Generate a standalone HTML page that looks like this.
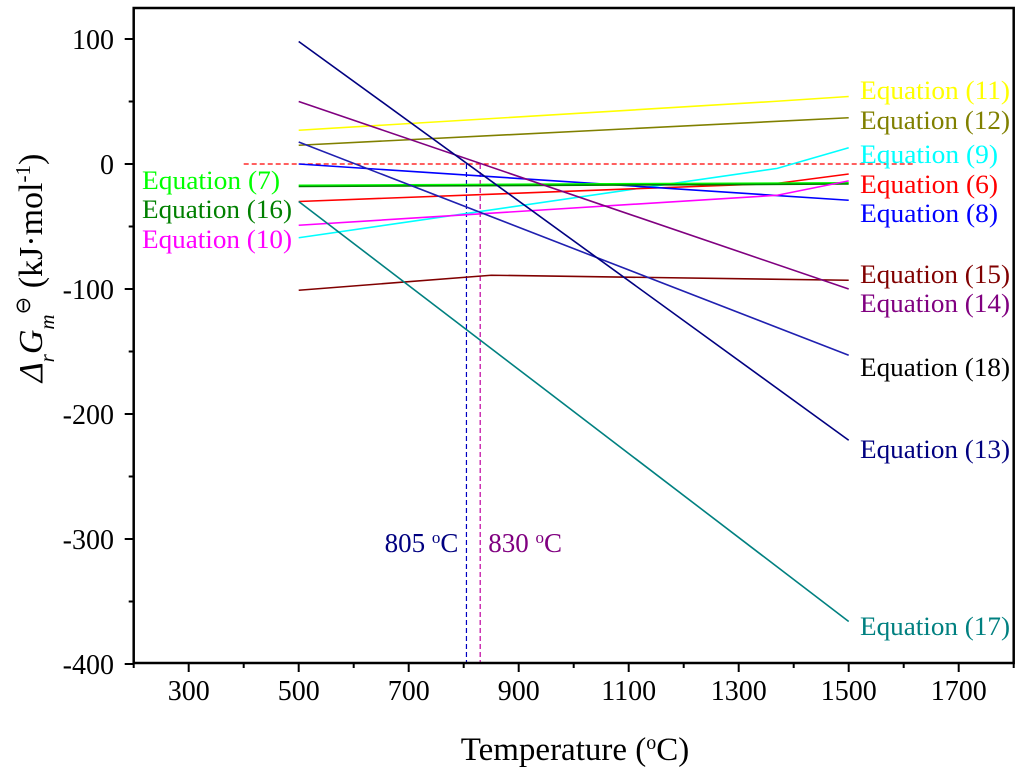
<!DOCTYPE html>
<html><head><meta charset="utf-8"><style>
body{margin:0;background:#fff}
svg text{font-family:"Liberation Serif",serif}
</style></head><body>
<svg id="chart" width="1024" height="777" viewBox="0 0 1024 777" xmlns="http://www.w3.org/2000/svg">
<g id="grid"></g>
<g id="lines"></g>
<g id="labels"></g>
<g id="axes"></g>
</svg>
<script>
const xTicks=[300,500,700,900,1100,1300,1500,1700];
const yTicks=[100,0,-100,-200,-300,-400];
const seriesNames=["11","12","9","6","8","7","16","10","15","14","18","13","17"];
const seriesColors=["#ffff00","#808000","#00ffff","#ff0000","#0000ff","#00ff00","#008000","#ff00ff","#800000","#800080","#2020b0","#000080","#008080"];
const seriesT=[[500,1362,1500],[500,1500],[500,1370,1500],[500,1370,1500],[500,1500],[500,1500],[500,1500],[500,1370,1500],[500,850,1500],[500,1500],[500,1500],[500,1500],[500,1500]];
const seriesG=[[27,50,54],[15,37],[-59,-3.5,13],[-30,-15.5,-8],[0,-29],[-17,-15],[-18,-16],[-49,-25,-13.5],[-101,-89,-93],[50,-100],[17.6,-153],[98,-221],[-30,-366]];
const labelY=[90,120,154,184,213,null,null,null,274,303,367,449,626];
const labelColor=["#ffff00","#808000","#00ffff","#ff0000","#0000ff","#00ff00","#008000","#ff00ff","#800000","#800080","#000000","#000080","#008080"];
const leftLabelY={"7":180,"16":209,"10":239};
const markT=[805,830];
const markColors=["#0000c0","#c000a0"];
const markText=["805","830"];
const textColors=["#000080","#800080"];

const X=t=>133.7+(t-200)*0.55;
const Y=g=>164-g*1.25;
const ns="http://www.w3.org/2000/svg";
function mk(tag,attrs,parent){const e=document.createElementNS(ns,tag);for(const k in attrs)e.setAttribute(k,attrs[k]);parent.appendChild(e);return e;}
const G=id=>document.getElementById(id);

let z=mk("line",{x1:X(400),x2:X(1620),y1:Y(0),y2:Y(0),stroke:"#ff0000","stroke-width":1.2,"stroke-dasharray":"5,3"},G("grid"));


markT.forEach((t,i)=>{
 let l=mk("line",{x1:X(t),x2:X(t),y1:Y(0),y2:Y(-400),stroke:markColors[i],"stroke-width":1.2,"stroke-dasharray":"5,3"},G("grid"));
 
 
 let tx=mk("text",{x:X(t)+(i==0?-8:8),y:552,"font-size":27,fill:textColors[i],"text-anchor":i==0?"end":"start"},G("labels"));
 tx.innerHTML=markText[i]+' <tspan baseline-shift="super" font-size="17">o</tspan>C';
 
 
});
seriesNames.forEach((n,i)=>{
 const pts=seriesT[i].map((t,j)=>X(t)+","+Y(seriesG[i][j])).join(" ");
 let p=mk("polyline",{points:pts,fill:"none",stroke:seriesColors[i],"stroke-width":1.6},G("lines"));
 
 
 let tx;
 if(labelY[i]!==null){
  tx=mk("text",{x:860,y:labelY[i]+9,"font-size":26,fill:labelColor[i],textLength:n.length>1?150:138,lengthAdjust:"spacingAndGlyphs"},G("labels"));
 } else {
  tx=mk("text",{x:142,y:leftLabelY[n]+9,"font-size":26,fill:seriesColors[i],textLength:n.length>1?150:138,lengthAdjust:"spacingAndGlyphs"},G("labels"));
 }
 tx.textContent="Equation ("+n+")";
 
 
});
const ax=G("axes");
let fr=mk("rect",{x:133.7,y:8,width:880,height:655,fill:"none",stroke:"#000","stroke-width":2.5},ax);


for(let t=200;t<=1800;t+=100){
 mk("line",{x1:X(t),x2:X(t),y1:663,y2:663+((t-300)%200==0?9:5),stroke:"#000","stroke-width":2},ax);
}
xTicks.forEach(t=>{
 let tx=mk("text",{x:X(t),y:700,"font-size":28,"text-anchor":"middle"},ax);
 tx.textContent=t;
 
 
});
for(let g=-400;g<=100;g+=50){
 mk("line",{x1:133.7,x2:133.7-(g%100==0?9:5),y1:Y(g),y2:Y(g),stroke:"#000","stroke-width":2},ax);
}
yTicks.forEach(g=>{
 let tx=mk("text",{x:114,y:Y(g)+10,"font-size":28,"text-anchor":"end"},ax);
 tx.textContent=g;
 
 
});
let xt=mk("text",{x:575,y:760,"font-size":33,"text-anchor":"middle"},ax);
xt.innerHTML='Temperature (<tspan baseline-shift="super" font-size="20">o</tspan>C)';


let yt=mk("text",{x:0,y:0,"font-size":34,"text-anchor":"middle",transform:"translate(42,268) rotate(-90)"},ax);
yt.innerHTML='<tspan font-style="italic">Δ</tspan><tspan font-style="italic" baseline-shift="sub" font-size="21">r</tspan><tspan font-style="italic">G</tspan><tspan font-style="italic" baseline-shift="sub" font-size="21">m</tspan><tspan baseline-shift="super" font-size="21">⊖</tspan> (kJ·mol<tspan baseline-shift="super" font-size="21">-1</tspan>)';


</script>
</body></html>
